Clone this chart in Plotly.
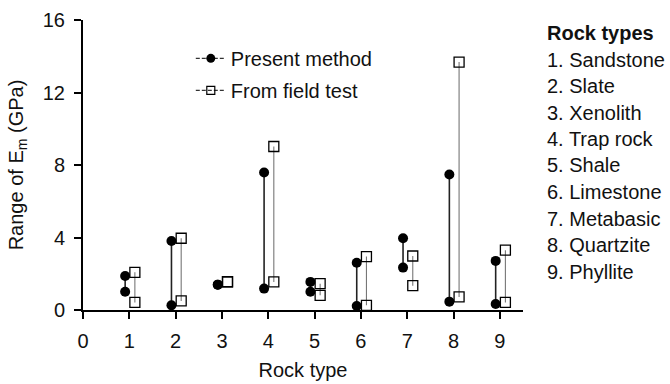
import plotly.graph_objects as go

# Rock type index (x positions) and names
rock_ids = [1, 2, 3, 4, 5, 6, 7, 8, 9]
rock_names = ["Sandstone", "Slate", "Xenolith", "Trap rock", "Shale",
              "Limestone", "Metabasic", "Quartzite", "Phyllite"]

# Range of modulus (GPa): low and high ends for each rock type
present_low = [1.01, 0.26, 1.40, 1.18, 1.01, 0.22, 2.34, 0.46, 0.33]
present_high = [1.88, 3.81, 1.40, 7.59, 1.55, 2.61, 3.96, 7.48, 2.71]
field_low = [0.42, 0.50, 1.56, 1.55, 0.81, 0.26, 1.34, 0.72, 0.42]
field_high = [2.08, 3.96, 1.56, 9.02, 1.45, 2.95, 2.98, 13.68, 3.30]

x_ticks = [0, 1, 2, 3, 4, 5, 6, 7, 8, 9]
y_ticks = [0, 4, 8, 12, 16]

FONT = "Liberation Sans, Arial, sans-serif"
FS = 20
OFF_PRESENT = -0.09
OFF_FIELD = 0.12


def range_segments(ids, lows, highs, offset):
    xs, ys = [], []
    for i, lo, hi in zip(ids, lows, highs):
        xs += [i + offset, i + offset, None]
        ys += [lo, hi, None]
    return xs, ys


fig = go.Figure()

px, py = range_segments(rock_ids, present_low, present_high, OFF_PRESENT)
fig.add_trace(go.Scatter(
    x=px, y=py, mode="lines+markers", showlegend=False,
    line=dict(color="#222", width=1.6),
    marker=dict(symbol="circle", size=10, color="black"),
))

fx, fy = range_segments(rock_ids, field_low, field_high, OFF_FIELD)
fig.add_trace(go.Scatter(
    x=fx, y=fy, mode="lines+markers", showlegend=False,
    line=dict(color="#777", width=1.1),
    marker=dict(symbol="square-open", size=10, color="black",
                line=dict(width=1.3)),
))

# Legend entries
fig.add_trace(go.Scatter(
    x=[None], y=[None], mode="lines+markers", name="Present method",
    legendgroup="a",
    line=dict(color="#333", width=1.2, dash="4px,2px"),
    marker=dict(symbol="circle", size=9, color="black"),
))
fig.add_trace(go.Scatter(
    x=[None], y=[None], mode="lines+markers", name="From field test",
    legendgroup="b",
    line=dict(color="#333", width=1.2, dash="4px,2px"),
    marker=dict(symbol="square-open", size=8, color="black",
                line=dict(width=1.2)),
))

# Rock type key on the right
key_lines = ["<b>Rock types</b>"] + [f"{i}. {n}" for i, n in zip(rock_ids, rock_names)]
for k, txt in enumerate(key_lines):
    fig.add_annotation(
        xref="paper", yref="paper", x=1.052, y=(310 - (33 + 26.5 * k)) / 290,
        text=txt, showarrow=False, xanchor="left", yanchor="middle",
        borderpad=0,
        font=dict(family=FONT, size=FS, color="#111"),
    )

fig.update_layout(
    width=670, height=384,
    margin=dict(l=83, r=147, t=20, b=74),
    paper_bgcolor="white", plot_bgcolor="white",
    font=dict(family=FONT, size=FS, color="#111"),
    legend=dict(
        x=0.245, y=0.935, xanchor="left", yanchor="top",
        bgcolor="rgba(0,0,0,0)", traceorder="grouped", tracegroupgap=3,
        itemwidth=30, font=dict(size=FS),
    ),
)

fig.update_xaxes(
    range=[0, 9.5], tickvals=x_ticks, ticktext=[str(v) for v in x_ticks],
    showgrid=False, zeroline=False, showline=True, linecolor="black",
    linewidth=2, ticks="outside", ticklen=7, tickwidth=2, tickcolor="black",
    ticklabelstandoff=5, automargin=False,
    title=dict(text="Rock type", standoff=12, font=dict(size=FS)),
    tickfont=dict(size=FS),
)
fig.update_yaxes(
    range=[0, 16], tickvals=y_ticks,
    showgrid=False, zeroline=False, showline=True, linecolor="black",
    linewidth=2, ticks="outside", ticklen=7, tickwidth=2, tickcolor="black",
    ticklabelstandoff=5, automargin=False,
    title=dict(text="Range of E<sub>m</sub> (GPa)", standoff=14,
               font=dict(size=FS)),
    tickfont=dict(size=FS),
)

fig.write_html("out.html")
